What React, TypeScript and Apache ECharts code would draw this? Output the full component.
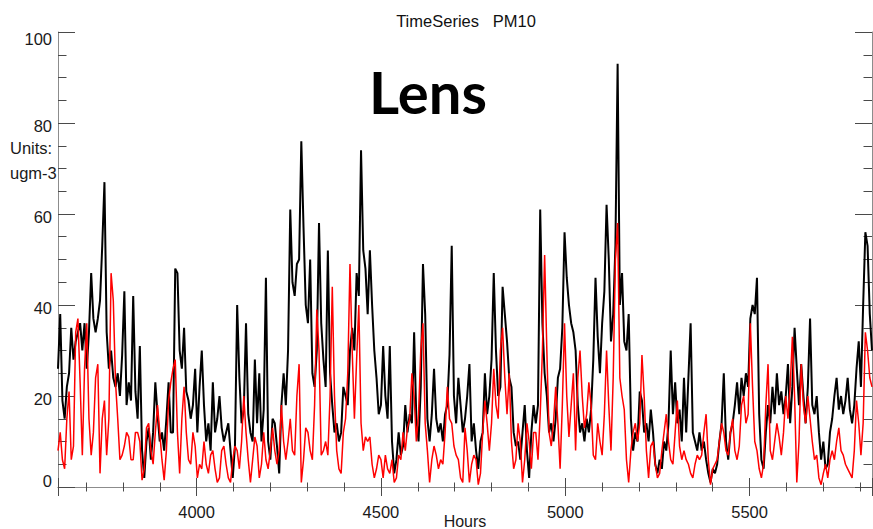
import React, { useEffect, useRef } from "react";
import * as echarts from "echarts";

// Hour-of-year range covered by the series (1 June 00:00 to 31 August 24:00)
const START_HOUR = 3624;
const END_HOUR = 5832;
const STEP_HOURS = 6;

// PM10 concentration, ugm-3, one value every six hours
const observed = [
  26, 38, 19, 15, 22, 25, 35, 28, 32, 34,
  36, 30, 36, 26, 34, 47, 37, 34, 37, 41,
  53, 67, 34, 26, 30, 24, 22, 25, 20, 29,
  43, 18, 23, 19, 42, 21, 15, 31, 8, 2,
  10, 13, 6, 12, 23, 16, 10, 12, 8, 15,
  23, 12, 12, 48, 47, 30, 26, 35, 21, 19,
  15, 18, 26, 12, 22, 30, 18, 10, 14, 8,
  23, 12, 15, 20, 13, 10, 12, 14, 8, 2,
  9, 40, 24, 14, 17, 36, 16, 12, 10, 28,
  14, 25, 10, 17, 46, 10, 6, 15, 14, 9,
  3, 18, 25, 18, 30, 61, 45, 42, 49, 50,
  76, 57, 40, 36, 50, 25, 22, 30, 58, 36,
  28, 22, 52, 25, 18, 12, 14, 10, 12, 22,
  20, 18, 30, 35, 30, 47, 42, 74, 52, 48,
  38, 52, 40, 30, 24, 16, 18, 31, 20, 15,
  31, 10, 3, 6, 12, 7, 9, 18, 12, 16,
  14, 34, 15, 10, 22, 49, 38, 15, 10, 16,
  26, 15, 12, 14, 10, 16, 18, 29, 53, 20,
  14, 24, 18, 12, 15, 20, 27, 10, 14, 8,
  4, 10, 12, 25, 16, 20, 28, 47, 30, 20,
  22, 44, 38, 32, 24, 22, 12, 9, 10, 6,
  12, 18, 8, 2, 12, 18, 14, 18, 61, 36,
  25, 20, 12, 14, 10, 15, 24, 26, 35, 56,
  46, 40, 36, 34, 30, 18, 12, 14, 10, 15,
  12, 17, 28, 46, 33, 25, 36, 43, 62, 50,
  32, 38, 53, 93, 40, 47, 32, 30, 38, 15,
  8, 12, 10, 21, 19, 12, 14, 10, 17, 12,
  5, 3, 6, 4, 10, 8, 14, 30, 16, 23,
  14, 17, 10, 24, 12, 24, 36, 12, 10, 8,
  12, 8, 10, 6, 3, 1, 4, 3, 5, 10,
  14, 25, 10, 6, 12, 14, 18, 23, 16, 24,
  20, 25, 22, 37, 40, 38, 46, 16, 6, 4,
  12, 18, 14, 22, 16, 25, 18, 21, 16, 20,
  27, 14, 22, 35, 26, 18, 27, 20, 14, 22,
  37, 18, 16, 20, 12, 6, 10, 4, 5, 12,
  15, 20, 24, 17, 20, 16, 19, 24, 17, 14,
  18, 26, 32, 22, 40, 56, 53, 38, 30,
];

const lens = [
  8, 12, 6, 4, 15, 21, 6, 9, 34, 37,
  23, 7, 26, 36, 15, 7, 12, 24, 27, 3,
  15, 19, 7, 15, 47, 41, 23, 15, 6, 7,
  9, 12, 11, 6, 6, 12, 12, 10, 1.5, 4,
  13, 14, 8, 5, 12, 18, 12, 6, 1.5, 8,
  19, 23, 26, 28, 12, 3, 15, 22, 12, 6,
  5, 12, 9, 2, 5, 4, 10, 5, 3, 7,
  8, 4, 1, 2, 8, 9, 5, 2, 1, 6,
  9, 8, 4, 10, 20, 12, 6, 1, 6, 11,
  9, 2, 5, 12, 6, 4, 8, 13, 8, 5,
  8, 18, 10, 6, 10, 15, 8, 7, 20, 27,
  1, 6, 13, 12, 8, 6, 18, 39, 30, 7,
  8, 10, 7, 20, 44, 20, 8, 4, 3, 12,
  15, 25, 49, 30, 15, 28, 40, 14, 8, 11,
  10, 11, 5, 2, 4, 7, 6, 2, 7, 4,
  3, 6, 1, 2, 7, 6, 12, 8, 13, 15,
  25, 20, 10, 16, 30, 36, 14, 8, 1, 6,
  9, 7, 4, 6, 5, 12, 22, 15, 14, 9,
  7, 6, 2, 1, 13, 8, 1, 5, 7, 6,
  0.5, 3, 12, 19, 14, 8, 14, 26, 18, 15,
  30, 35, 24, 16, 25, 10, 4, 6, 14, 10,
  1, 6, 14, 10, 4, 12, 12, 6, 16, 30,
  51, 30, 12, 9, 14, 22, 14, 4, 18, 36,
  20, 11, 18, 25, 8, 24, 30, 20, 13, 16,
  23, 18, 7, 6, 14, 10, 7, 16, 30, 18,
  8, 24, 50, 58, 24, 20, 17, 6, 1, 8,
  12, 14, 10, 14, 29, 20, 8, 2, 9, 10,
  5, 2, 3, 8, 12, 16, 10, 6, 5, 12,
  19, 9, 6, 8, 6, 5, 3, 2, 5, 7,
  6, 7, 12, 16, 6, 0.5, 4, 5, 6, 10,
  14, 12, 8, 7, 12, 15, 8, 6, 9, 18,
  20, 14, 16, 36, 22, 10, 8, 4, 2, 5,
  18, 27, 8, 6, 10, 14, 11, 7, 12, 20,
  15, 22, 33, 20, 1, 10, 27, 18, 14, 20,
  15, 10, 6, 7, 2, 0.5, 3, 5, 2, 6,
  8, 6, 10, 13, 8, 7, 5, 4, 3, 2,
  8, 19, 14, 7, 14, 34, 30, 24, 22,
];

const Y_MIN = 0;
const Y_MAX = 100;
const Y_STEP = 20;

const WIDTH = 873;
const HEIGHT = 529;

const FONT = "'Liberation Sans', Arial, sans-serif";
const FRAME = "#8c8c8c";
const TICK = "#4a4a4a";

const toPairs = (values: number[]) =>
  values.map((v, i) => [START_HOUR + i * STEP_HOURS, v]);

export default function App() {
  const ref = useRef<HTMLDivElement>(null);

  useEffect(() => {
    if (!ref.current) return;
    const chart = echarts.init(ref.current, undefined, {
      renderer: "svg",
      width: WIDTH,
      height: HEIGHT,
    });

    const xBase = {
      type: "value" as const,
      min: START_HOUR,
      max: END_HOUR,
      splitLine: { show: false },
      axisLine: { show: true, lineStyle: { color: FRAME, width: 1 } },
      axisTick: { show: true, inside: true, length: 9, lineStyle: { color: TICK, width: 1 } },
      minorTick: { show: true, splitNumber: 5, length: 4.5, lineStyle: { color: TICK, width: 1 } },
    };

    const yBase = {
      type: "value" as const,
      min: Y_MIN,
      max: Y_MAX,
      interval: Y_STEP,
      splitLine: { show: false },
      axisLine: { show: true, lineStyle: { color: FRAME, width: 1 } },
      axisTick: { show: true, inside: true, length: 17, lineStyle: { color: TICK, width: 1 } },
      minorTick: { show: true, splitNumber: 4, length: 8.5, lineStyle: { color: TICK, width: 1 } },
    };

    chart.setOption({
      animation: false,
      backgroundColor: "#ffffff",
      title: {
        text: "TimeSeries   PM10",
        left: 461,
        top: 7,
        textAlign: "center",
        textStyle: { fontFamily: FONT, fontSize: 16.5, fontWeight: "normal", color: "#111" },
      },
      grid: { left: 58, right: 1, top: 32, bottom: 42, outerBoundsMode: "none" },
      xAxis: [
        {
          ...xBase,
          position: "bottom",
          axisLabel: {
            show: true,
            showMinLabel: false,
            showMaxLabel: false,
            margin: 16,
            fontFamily: FONT,
            fontSize: 16.5,
            color: "#1a1a1a",
            formatter: (v: number) => String(v),
          },
          name: "Hours",
          nameLocation: "middle",
          nameGap: 26,
          nameMoveOverlap: false,
          nameTextStyle: { fontFamily: FONT, fontSize: 16, color: "#1a1a1a" },
        },
        { ...xBase, position: "top", axisLabel: { show: false } },
      ],
      yAxis: [
        {
          ...yBase,
          position: "left",
          axisLabel: {
            show: true,
            margin: 6,
            fontFamily: FONT,
            fontSize: 16.5,
            color: "#1a1a1a",
            formatter: (v: number) =>
              v === Y_MAX ? `{hi|${v}}` : v === Y_MIN ? `{lo|${v}}` : `{md|${v}}`,
            rich: {
              hi: { padding: [14, 0, 0, 0] },
              lo: { padding: [0, 0, 12, 0] },
              md: { padding: [5, 0, 0, 0] },
            },
          },
        },
        { ...yBase, position: "right", axisLabel: { show: false } },
      ],
      graphic: [
        {
          type: "text",
          left: 10,
          top: 139,
          style: { text: "Units:", fontFamily: FONT, fontSize: 16.5, fill: "#1a1a1a" },
        },
        {
          type: "text",
          left: 10,
          top: 164,
          style: { text: "ugm-3", fontFamily: FONT, fontSize: 16.5, fill: "#1a1a1a" },
        },
        {
          type: "text",
          x: 428,
          y: 91,
          style: {
            text: "Lens",
            fontFamily: "Lato, 'Open Sans', sans-serif",
            fontWeight: "bold",
            fontSize: 58,
            fill: "#000",
            align: "center",
            verticalAlign: "middle",
          },
        },
      ],
      series: [
        {
          name: "Observed",
          type: "line",
          xAxisIndex: 0,
          yAxisIndex: 0,
          data: toPairs(observed),
          showSymbol: false,
          symbol: "none",
          silent: true,
          lineStyle: { color: "#000000", width: 2 },
          z: 2,
        },
        {
          name: "Lens",
          type: "line",
          xAxisIndex: 0,
          yAxisIndex: 0,
          data: toPairs(lens),
          showSymbol: false,
          symbol: "none",
          silent: true,
          lineStyle: { color: "#ff0000", width: 1.5 },
          z: 3,
        },
      ],
    });

    return () => chart.dispose();
  }, []);

  return (
    <div
      ref={ref}
      style={{ position: "fixed", left: 0, top: 0, width: WIDTH, height: HEIGHT, background: "#fff" }}
    />
  );
}
